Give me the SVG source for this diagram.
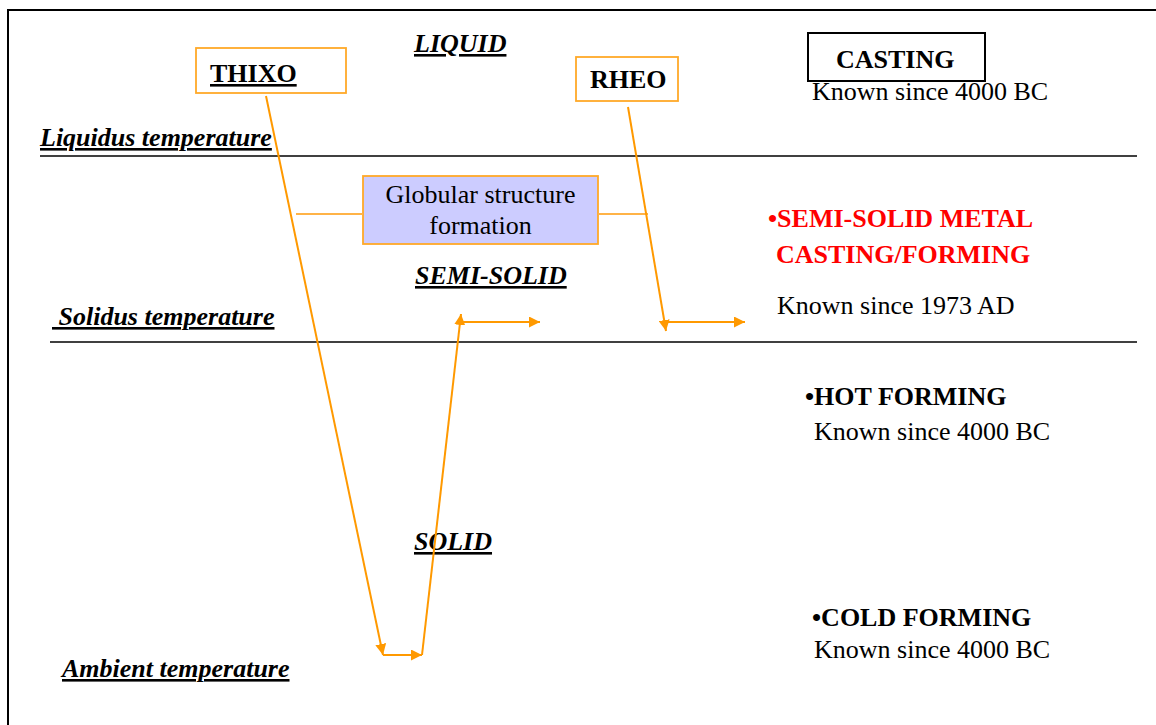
<svg xmlns="http://www.w3.org/2000/svg" width="1156" height="725" viewBox="0 0 1156 725">
<defs>
<marker id="ah" viewBox="0 0 10 10" refX="10" refY="5" markerWidth="11" markerHeight="11" markerUnits="userSpaceOnUse" orient="auto">
<path d="M0,0 L10,5 L0,10 z" fill="#FF9900"/>
</marker>
</defs>
<style>
text{font-family:"Liberation Serif","Times New Roman",serif;font-size:26px;fill:#000}
.b{font-weight:bold}
.bi{font-weight:bold;font-style:italic;text-decoration:underline}
.u{text-decoration:underline}
.red{fill:#FF0000}
.box{fill:#fff;stroke:#FFA928;stroke-width:1.8}
.conn{fill:none;stroke:#FF9900;stroke-width:2}
.thin{fill:none;stroke:#FFB347;stroke-width:2}
.rule{stroke:#000;stroke-width:1.3}
</style>
<rect x="0" y="0" width="1156" height="725" fill="#fff"/>
<rect x="8" y="10" width="1160" height="730" fill="none" stroke="#000" stroke-width="2"/>
<g id="rules">
<line class="rule" x1="40" y1="156" x2="1137" y2="156"/>
<line class="rule" x1="50" y1="342" x2="1137" y2="342"/>
</g>
<g id="labels">
<text class="bi" x="414" y="52">LIQUID</text>
<text class="bi" x="40" y="146">Liquidus temperature</text>
<text class="bi" x="415" y="284">SEMI-SOLID</text>
<text class="bi" x="52" y="325" style="white-space:pre"> Solidus temperature</text>
<text class="bi" x="414" y="550">SOLID</text>
<text class="bi" x="62" y="677">Ambient temperature</text>
</g>
<g id="thixo">
<rect class="box" x="196" y="48" width="150" height="45"/>
<text class="b u" x="210" y="82">THIXO</text>
</g>
<g id="rheo">
<rect class="box" x="576" y="57" width="102" height="44"/>
<text class="b" x="590" y="88">RHEO</text>
</g>
<g id="casting">
<rect x="808" y="33" width="177" height="48" fill="#fff" stroke="#000" stroke-width="2"/>
<text class="b" x="836" y="68">CASTING</text>
<text x="812" y="100">Known since 4000 BC</text>
</g>
<g id="globular">
<rect x="363" y="176" width="235" height="68" fill="#CCCCFF" stroke="#FFA928" stroke-width="1.8"/>
<text x="480.5" y="203" text-anchor="middle">Globular structure</text>
<text x="480.5" y="234" text-anchor="middle">formation</text>
</g>
<g id="ssm">
<text class="b red" x="768" y="227">•SEMI-SOLID METAL</text>
<text class="b red" x="776" y="263">CASTING/FORMING</text>
<text x="777" y="314">Known since 1973 AD</text>
</g>
<g id="hot">
<text class="b" x="805" y="405">•HOT FORMING</text>
<text x="814" y="440">Known since 4000 BC</text>
</g>
<g id="cold">
<text class="b" x="812" y="626">•COLD FORMING</text>
<text x="814" y="658">Known since 4000 BC</text>
</g>
<g id="connectors">
<path class="thin" d="M296,214 L363,214"/>
<path class="thin" d="M598,214 L648,214"/>
<path class="conn" d="M266,96 L383,655" marker-end="url(#ah)"/>
<path class="conn" d="M383,655 L422,655" marker-end="url(#ah)"/>
<path class="conn" d="M422,655 L461,314" marker-end="url(#ah)"/>
<path class="conn" d="M461,322 L540,322" marker-end="url(#ah)"/>
<path class="conn" d="M628,107 L666,331" marker-end="url(#ah)"/>
<path class="conn" d="M666,322 L745,322" marker-end="url(#ah)"/>
</g>
</svg>
